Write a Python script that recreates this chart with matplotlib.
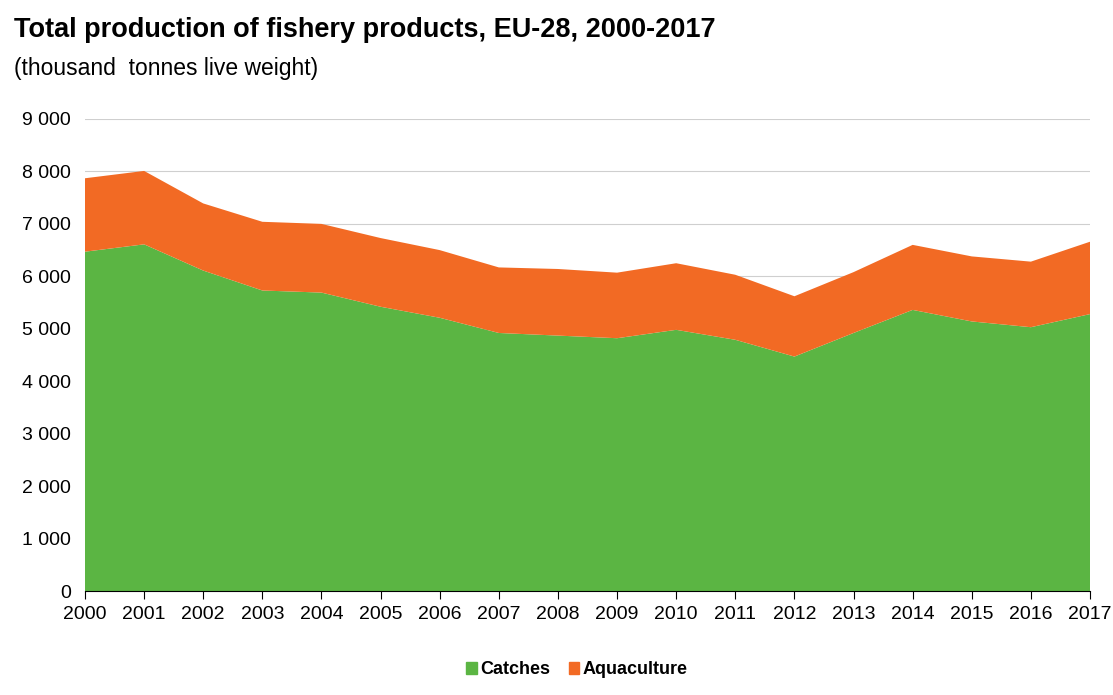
import matplotlib.pyplot as plt
from matplotlib.patches import Patch
from matplotlib.ticker import FuncFormatter

years = list(range(2000, 2018))
catches = [6470, 6610, 6110, 5730, 5690, 5420, 5210, 4920, 4870,
           4820, 4980, 4790, 4470, 4920, 5360, 5140, 5030, 5280]
aquaculture = [1400, 1400, 1280, 1310, 1310, 1310, 1290, 1250, 1270,
               1250, 1270, 1240, 1150, 1160, 1240, 1240, 1250, 1380]

green = '#5bb543'
orange = '#f26a24'

plt.rcParams['font.family'] = ['Liberation Sans', 'DejaVu Sans']

fig = plt.figure(figsize=(11.13, 6.95), dpi=100)
ax = fig.add_axes([85 / 1113, 1 - 591 / 695, (1090 - 85) / 1113, (591 - 119) / 695])

ax.stackplot(years, catches, aquaculture, colors=[green, orange], zorder=2)

ax.set_xlim(2000, 2017)
ax.set_ylim(0, 9000)
ax.set_xticks(years)
ax.set_yticks(range(0, 9001, 1000))
ax.yaxis.set_major_formatter(FuncFormatter(lambda v, p: f'{int(v):,}'.replace(',', ' ')))
ax.grid(axis='y', color='#cfcfcf', lw=0.8, zorder=0)
ax.set_axisbelow(True)

for s in ['top', 'right', 'left']:
    ax.spines[s].set_visible(False)
ax.spines['bottom'].set_color('black')
ax.spines['bottom'].set_zorder(3)
ax.tick_params(axis='x', length=6, direction='out', labelsize=14, pad=5)
ax.tick_params(axis='y', length=0, labelsize=14, pad=10)

fig.text(14 / 1113, 1 - 30 / 695, 'Total production of fishery products, EU-28, 2000-2017',
         fontsize=19.5, fontweight='bold', va='center', ha='left')
fig.text(14 / 1113, 1 - 68 / 695, '(thousand  tonnes live weight)',
         fontsize=16.5, va='center', ha='left')

handles = [Patch(color=green, label='Catches'), Patch(color=orange, label='Aquaculture')]
fig.legend(handles=handles, loc='center', bbox_to_anchor=(577 / 1113, 1 - 670 / 695),
           ncol=2, frameon=False, handlelength=0.6, handleheight=0.6,
           handletextpad=0.2, columnspacing=1.0, prop={'size': 13, 'weight': 'bold'})

fig.savefig('out.png', dpi=100)
